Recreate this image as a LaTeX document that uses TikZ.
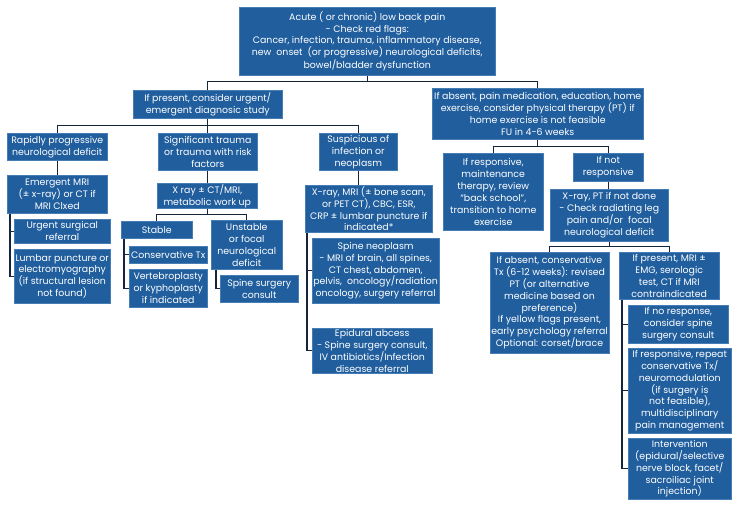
\documentclass[tikz,border=0pt]{standalone}
\usepackage{fontspec}
\setmainfont{Poppins}
\usepackage{tikz}
\usepackage{xcolor}
\definecolor{boxblue}{RGB}{32,94,158}
\definecolor{boxedge}{RGB}{70,125,180}
\definecolor{linkcol}{RGB}{22,37,62}

\begin{document}
\begin{tikzpicture}[x=1pt, y=-1pt,
  box/.style={rectangle, anchor=north west, fill=boxblue, draw=boxedge, line width=0.5pt, text=white, align=center, inner sep=1pt, font=\fontsize{9.4}{11.9}\selectfont},
  link/.style={line width=1.1pt, draw=linkcol}
]
\useasboundingbox (0,0) rectangle (735,507);
\node[box, minimum width=256pt, minimum height=68pt] (n0) at (239,7) {Acute ( or chronic) low back pain\\- Check red flags:\\Cancer, infection, trauma, inflammatory disease,\\new\ \ onset\ \ (or progressive) neurological deficits,\\[1pt]bowel/bladder dysfunction};
\node[box, minimum width=149pt, minimum height=28pt] (n1) at (133,90) {If present, consider urgent/\\emergent diagnosic study};
\node[box, minimum width=211pt, minimum height=51pt] (n2) at (432,88) {If absent, pain medication, education, home\\exercise, consider physical therapy (PT) if\\home exercise is not feasible\\FU in 4-6 weeks};
\node[box, minimum width=100pt, minimum height=27pt] (n3) at (7,133) {Rapidly progressive\\neurological deficit};
\node[box, minimum width=99pt, minimum height=37pt] (n4) at (158,133) {Significant trauma\\or trauma with risk\\factors};
\node[box, minimum width=78pt, minimum height=37pt] (n5) at (319,133) {Suspicious of\\infection or\\neoplasm};
\node[box, minimum width=100pt, minimum height=38pt] (n6) at (7,175) {Emergent MRI\\(± x-ray) or CT if\\MRI Clxed};
\node[box, minimum width=96pt, minimum height=24pt] (n7) at (14,219) {Urgent surgical\\referral};
\node[box, minimum width=96pt, minimum height=54pt] (n8) at (14,249) {Lumbar puncture or\\electromyography\\(if structural lesion\\not found)};
\node[box, minimum width=100pt, minimum height=24pt] (n9) at (157,183) {X ray ± CT/MRI,\\metabolic work up};
\node[box, minimum width=71pt, minimum height=17pt] (n10) at (121,221) {Stable};
\node[box, minimum width=71pt, minimum height=49pt] (n11) at (211,220) {Unstable\\or focal\\neurological\\deficit};
\node[box, minimum width=78pt, minimum height=17pt] (n12) at (129,246) {Conservative Tx};
\node[box, minimum width=78pt, minimum height=38pt] (n13) at (129,269) {Vertebroplasty\\or kyphoplasty\\if indicated};
\node[box, minimum width=78pt, minimum height=27pt] (n14) at (220,275) {Spine surgery\\consult};
\node[box, minimum width=127pt, minimum height=47pt] (n15) at (305,185) {X-ray, MRI (± bone scan,\\or PET CT), CBC, ESR,\\CRP ± lumbar puncture if\\indicated*};
\node[box, minimum width=120pt, minimum height=65pt] (n16) at (312,238) {Spine neoplasm\\- MRI of brain, all spines,\\CT chest, abdomen,\\pelvis,\ \ oncology/radiation\\oncology, surgery referral};
\node[box, minimum width=120pt, minimum height=42pt] (n17) at (312,328) {Epidural abcess\\- Spine surgery consult,\\IV antibiotics/Infection\\disease referral};
\node[box, minimum width=100pt, minimum height=77pt] (n18) at (443,153) {If responsive,\\maintenance\\therapy, review\\“back school”,\\transition to home\\exercise};
\node[box, minimum width=70pt, minimum height=28pt] (n19) at (573,153) {If not\\responsive};
\node[box, minimum width=118pt, minimum height=52pt] (n20) at (550,189) {X-ray, PT if not done\\- Check radiating leg\\pain and/or\ \ focal\\neurological deficit};
\node[box, minimum width=118pt, minimum height=101pt] (n21) at (490,252) {If absent, conservative\\Tx (6-12 weeks): revised\\PT (or alternative\\medicine based on\\preference)\\If yellow flags present,\\early psychology referral\\Optional: corset/brace};
\node[box, minimum width=100pt, minimum height=47pt] (n22) at (619,252) {If present, MRI ±\\EMG, serologic\\test, CT if MRI\\contraindicated};
\node[box, minimum width=100pt, minimum height=38pt] (n23) at (628,305) {If no response,\\consider spine\\surgery consult};
\node[box, minimum width=103pt, minimum height=85pt] (n24) at (628,348) {If responsive, repeat\\conservative Tx/\\neuromodulation\\(if surgery is\\not feasible),\\multidisciplinary\\pain management};
\node[box, minimum width=103pt, minimum height=61pt] (n25) at (628,438) {Intervention\\(epidural/selective\\nerve block, facet/\\sacroiliac joint\\injection)};
\draw[link] (n0.south) -- ++(0,6) -| (n1.north);
\draw[link] (n0.south) -- ++(0,6) -| (n2.north);
\draw[link] (n1.south) -- ++(0,7) -| (n3.north);
\draw[link] (n1.south) -- (n1.south |- n4.north);
\draw[link] (n1.south) -- ++(0,7) -| (n5.north);
\draw[link] (n3.south) -- (n6.north);
\draw[link] (n4.south) -- (n4.south |- n9.north);
\draw[link] (n5.south) -- (n5.south |- n15.north);
\draw[link] ([xshift=3pt]n6.south west) |- (n7.west);
\draw[link] ([xshift=3pt]n6.south west) |- (n8.west);
\draw[link] (n9.south) -- ++(0,6) -| (n10.north);
\draw[link] (n9.south) -- ++(0,6) -| (n11.north);
\draw[link] ([xshift=3pt]n10.south west) |- (n12.west);
\draw[link] ([xshift=3pt]n10.south west) |- (n13.west);
\draw[link] ([xshift=5pt]n11.south west) |- (n14.west);
\draw[link] ([xshift=2pt]n15.south west) |- (n16.west);
\draw[link] ([xshift=2pt]n15.south west) |- (n17.west);
\draw[link] (n2.south) -- ++(0,7) -| (n18.north);
\draw[link] (n2.south) -- ++(0,7) -| (n19.north);
\draw[link] (n19.south) -- (n19.south |- n20.north);
\draw[link] (n20.south) -- ++(0,5) -| (n21.north);
\draw[link] (n20.south) -- ++(0,5) -| (n22.north);
\draw[link] ([xshift=3pt]n22.south west) |- (n23.west);
\draw[link] ([xshift=3pt]n22.south west) |- (n24.west);
\draw[link] ([xshift=3pt]n22.south west) |- (n25.west);
\end{tikzpicture}
\end{document}
